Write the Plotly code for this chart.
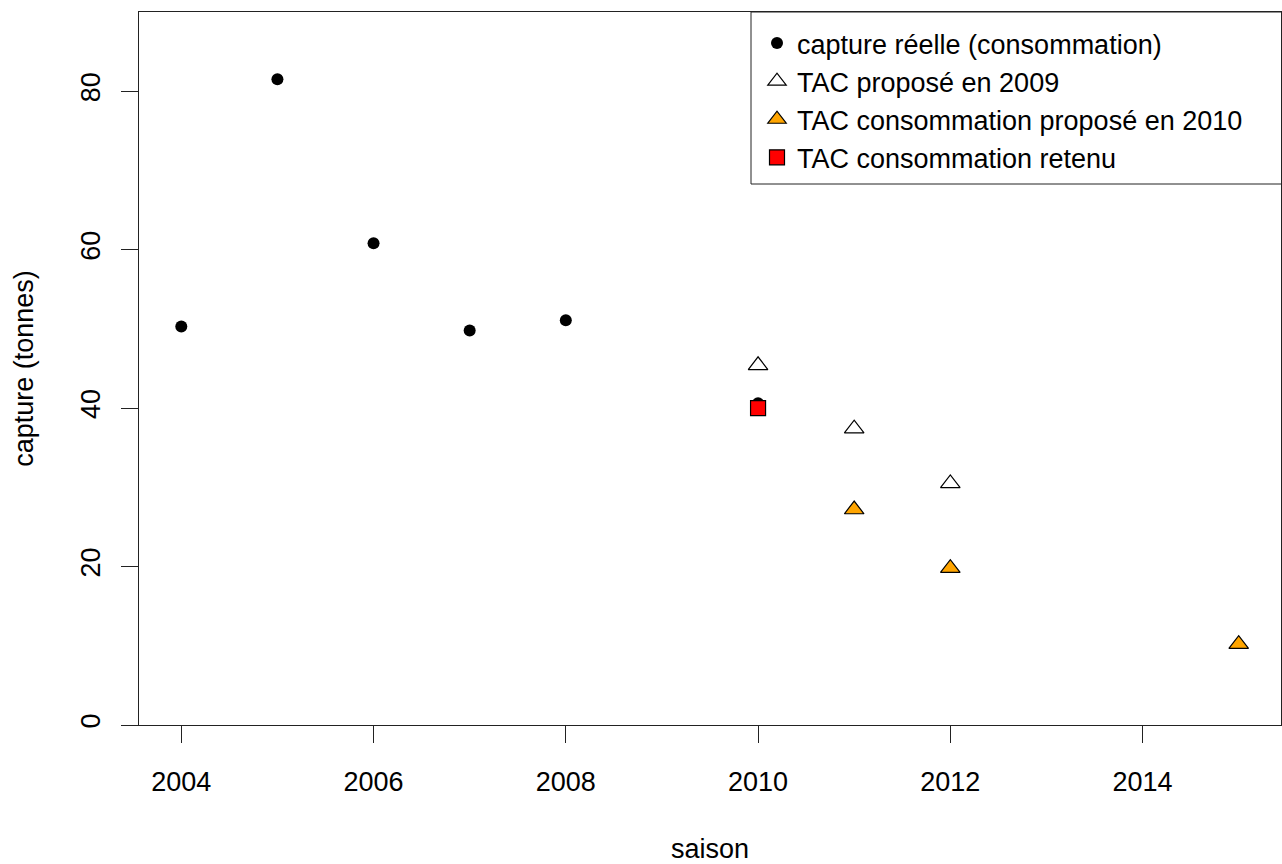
import plotly.graph_objects as go

# Data
years_obs = [2004, 2005, 2006, 2007, 2008, 2010]
capture_obs = [50.3, 81.5, 60.8, 49.8, 51.1, 40.6]

years_tac2009 = [2010, 2011, 2012]
tac2009 = [45.4, 37.4, 30.5]

years_tac2010 = [2011, 2012, 2015]
tac2010 = [27.2, 19.8, 10.2]

years_retenu = [2010]
tac_retenu = [40.0]

x_ticks = [2004, 2006, 2008, 2010, 2012, 2014]
y_ticks = [0, 20, 40, 60, 80]

FONT = "Liberation Sans, Arial, sans-serif"
FS = 27

fig = go.Figure()
fig.add_trace(go.Scatter(
    x=years_obs, y=capture_obs, mode="markers", name="capture réelle (consommation)",
    marker=dict(symbol="circle", size=12, color="black", line=dict(width=0))))
fig.add_trace(go.Scatter(
    x=years_tac2009, y=tac2009, mode="markers", name="TAC proposé en 2009",
    marker=dict(symbol="triangle-up", size=17, color="white", line=dict(width=1.2, color="black"))))
fig.add_trace(go.Scatter(
    x=years_tac2010, y=tac2010, mode="markers", name="TAC consommation proposé en 2010",
    marker=dict(symbol="triangle-up", size=17, color="#FFA500", line=dict(width=1.2, color="black"))))
fig.add_trace(go.Scatter(
    x=years_retenu, y=tac_retenu, mode="markers", name="TAC consommation retenu",
    marker=dict(symbol="square", size=15, color="#FF0000", line=dict(width=1.2, color="black"))))

W, H = 1282, 864
L, R, T, B = 139, 1, 12, 139
pw = W - L - R
ph = H - T - B

def px_x(px):
    return (px - L) / pw

def px_y(py):
    return (H - B - py) / ph

fig.update_layout(
    width=W, height=H,
    margin=dict(l=L, r=R, t=T, b=B, autoexpand=False),
    paper_bgcolor="white", plot_bgcolor="white",
    font=dict(family=FONT, size=FS, color="black"),
    showlegend=True,
    legend=dict(
        x=px_x(757), y=px_y(19), xanchor="left", yanchor="top",
        bgcolor="rgba(0,0,0,0)", borderwidth=0,
        font=dict(family=FONT, size=FS, color="black"),
        traceorder="normal",
    ),
    xaxis=dict(
        range=[2003.56, 2015.44], tickvals=x_ticks, ticktext=[str(v) for v in x_ticks],
        ticks="outside", ticklen=17, tickwidth=1, tickcolor="#222",
        showline=True, linecolor="#222", linewidth=1, mirror=True,
        showgrid=False, zeroline=False,
        ticklabelstandoff=16,
        title=dict(text="saison", standoff=53, font=dict(family=FONT, size=FS)),
        automargin=False,
    ),
    yaxis=dict(
        range=[0, 90], tickvals=y_ticks, ticktext=[str(v) for v in y_ticks],
        ticks="outside", ticklen=17, tickwidth=1, tickcolor="#222",
        showline=True, linecolor="#222", linewidth=1, mirror=True,
        showgrid=False, zeroline=False, tickangle=-90,
        ticklabelstandoff=10,
        title=dict(text="capture (tonnes)", standoff=34, font=dict(family=FONT, size=FS)),
        automargin=False,
    ),
    shapes=[dict(
        type="rect", xref="paper", yref="paper",
        x0=px_x(751), x1=px_x(1290), y0=px_y(184), y1=px_y(12),
        line=dict(color="#222", width=1), fillcolor="rgba(0,0,0,0)", layer="above",
    )],
)

fig.write_html("out.html")
